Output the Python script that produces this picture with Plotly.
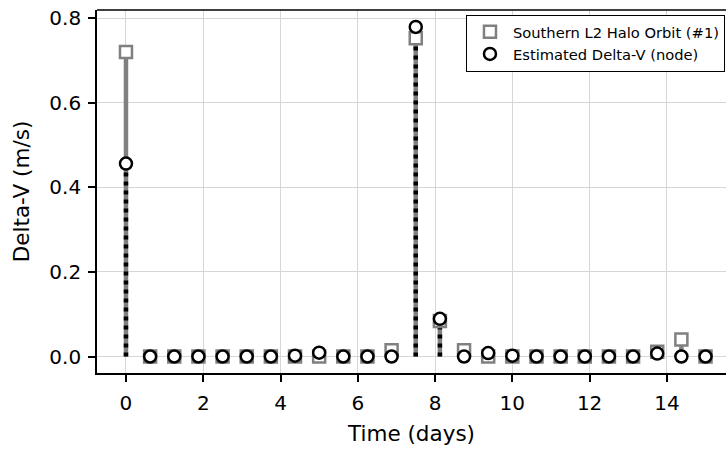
import plotly.graph_objects as go

# Manoeuvre epochs (days) and delta-V magnitudes (m/s)
time_days = [0.0, 0.625, 1.25, 1.875, 2.5, 3.125, 3.75, 4.375, 5.0, 5.625,
             6.25, 6.875, 7.5, 8.125, 8.75, 9.375, 10.0, 10.625, 11.25, 11.875,
             12.5, 13.125, 13.75, 14.375, 15.0]
halo_dv = [0.720, 0.0, 0.0, 0.0, 0.0, 0.0, 0.0, 0.0, 0.0, 0.0,
           0.0, 0.015, 0.752, 0.084, 0.015, 0.0, 0.0, 0.0, 0.0, 0.0,
           0.0, 0.0, 0.011, 0.040, 0.0]
node_dv = [0.456, 0.0, 0.0, 0.0, 0.0, 0.0, 0.0, 0.002, 0.009, 0.0,
           0.0, 0.0, 0.779, 0.089, 0.0, 0.008, 0.002, 0.0, 0.0, 0.0,
           0.0, 0.0, 0.007, 0.0, 0.0]

x_ticks = [0, 2, 4, 6, 8, 10, 12, 14]
y_ticks = [0.0, 0.2, 0.4, 0.6, 0.8]
y_tick_text = ["0.0", "0.2", "0.4", "0.6", "0.8"]

halo_name = "Southern L2 Halo Orbit (#1)"
node_name = "Estimated Delta-V (node)"

FONT = "DejaVu Sans"
GRAY = "#808080"


def stem_path(xs, ys):
    """Vertical segments from zero up to each value, separated by gaps."""
    px, py = [], []
    for x, y in zip(xs, ys):
        px += [x, x, None]
        py += [0.0, y, None]
    return px, py


fig = go.Figure()

sx, sy = stem_path(time_days, halo_dv)
fig.add_trace(go.Scatter(x=sx, y=sy, mode="lines", showlegend=False,
                         hoverinfo="skip",
                         line=dict(color=GRAY, width=4.5)))

nx, ny = stem_path(time_days, node_dv)
fig.add_trace(go.Scatter(x=nx, y=ny, mode="lines", showlegend=False,
                         hoverinfo="skip",
                         line=dict(color="black", width=4.5, dash="4px,5px")))

fig.add_trace(go.Scatter(
    x=time_days, y=halo_dv, mode="markers", name=halo_name,
    legendgroup="halo",
    marker=dict(symbol="square", size=12, color="white",
                line=dict(color=GRAY, width=2.5)),
))
fig.add_trace(go.Scatter(
    x=time_days, y=node_dv, mode="markers", name=node_name,
    legendgroup="node",
    marker=dict(symbol="circle", size=12, color="white",
                line=dict(color="black", width=2.5)),
))

axis_common = dict(
    showgrid=True, gridcolor="#d6d6d6", gridwidth=1,
    zeroline=False,
    showline=True, linecolor="black", linewidth=1.7,
    ticks="outside", ticklen=7, tickwidth=1.7, tickcolor="black",
    tickfont=dict(family=FONT, size=20, color="black"),
    mirror=False,
)

fig.update_xaxes(
    range=[-0.75, 15.53],
    tickvals=x_ticks,
    ticklabelstandoff=4,
    title=dict(text="Time (days)", font=dict(family=FONT, size=21.5, color="black"),
               standoff=12),
    **axis_common,
)
fig.update_yaxes(
    range=[-0.039, 0.819],
    tickvals=y_ticks, ticktext=y_tick_text,
    ticklabelstandoff=3,
    title=dict(text="Delta-V (m/s)", font=dict(family=FONT, size=21.5, color="black"),
               standoff=14),
    **axis_common,
)

# top spine (the right side of the axes runs past the page edge)
fig.add_shape(type="line", xref="paper", yref="paper", x0=0, x1=1, y0=1, y1=1,
              line=dict(color="black", width=1.7))

fig.update_layout(
    width=726, height=449,
    margin=dict(l=97, r=0, t=10, b=76, autoexpand=False),
    paper_bgcolor="white", plot_bgcolor="white",
    font=dict(family=FONT, color="black"),
    showlegend=True,
    legend=dict(
        x=0.5866, y=0.987, xanchor="left", yanchor="top",
        bgcolor="white", bordercolor="black", borderwidth=1,
        font=dict(family=FONT, size=14.7, color="black"),
        itemwidth=36, tracegroupgap=0,
    ),
)

fig.write_html("out.html")
